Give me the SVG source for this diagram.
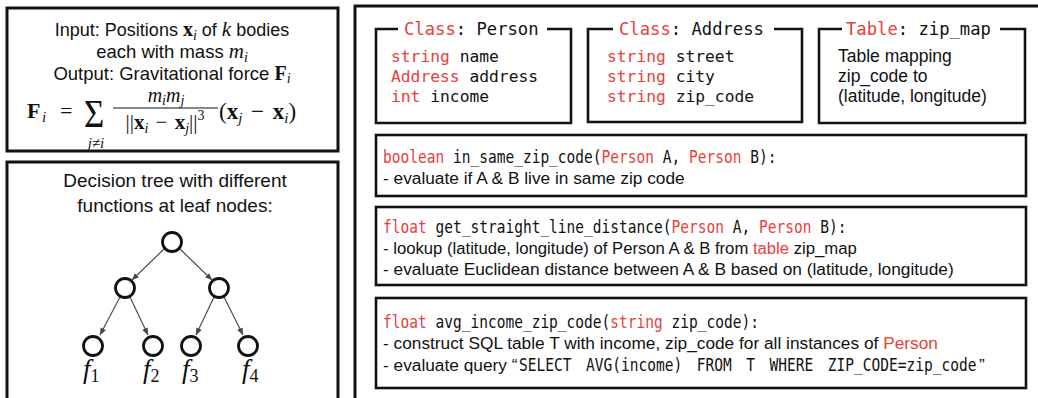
<svg xmlns="http://www.w3.org/2000/svg" width="1038" height="398" viewBox="0 0 1038 398">
<style>
.box{fill:none;stroke:#111;stroke-width:3}
.ibox{fill:none;stroke:#111;stroke-width:2.6}
.mono{font-family:"DejaVu Sans Mono","Liberation Mono",monospace;fill:#111}
.sans{font-family:"Liberation Sans",Arial,sans-serif;fill:#111}
.serif{font-family:"Liberation Serif","Times New Roman",serif;fill:#111}
.red{fill:#e8403a}
.b{font-weight:bold}
.it{font-style:italic}
.node{fill:#fff;stroke:#111;stroke-width:2.8}
.edge{stroke:#444;stroke-width:1.1;fill:none}
</style>
<defs>
<marker id="ah" markerWidth="8" markerHeight="8" refX="7" refY="4" orient="auto" markerUnits="userSpaceOnUse">
<path d="M0,1 L7,4 L0,7 Z" fill="#444"/>
</marker>
</defs>
<rect width="1038" height="398" fill="#fff"/>

<g id="physics">
<rect class="box" x="7" y="8" width="331" height="143"/>
<text class="sans" x="172" y="36" font-size="18" text-anchor="middle">Input: Positions <tspan class="serif b" font-size="20">x</tspan><tspan class="serif it" font-size="14" dy="4">i</tspan><tspan dy="-4"> of </tspan><tspan class="serif it" font-size="21">k</tspan> bodies</text>
<text class="sans" x="172" y="58" font-size="18.5" text-anchor="middle">each with mass <tspan class="serif it" font-size="21">m</tspan><tspan class="serif it" font-size="14" dy="4">i</tspan></text>
<text class="sans" x="172" y="80" font-size="18.5" text-anchor="middle">Output: Gravitational force <tspan class="serif b" font-size="20">F</tspan><tspan class="serif it" font-size="14" dy="3">i</tspan></text>
<text class="serif b" x="27" y="118" font-size="22">F</text>
<text class="serif it" x="42" y="122" font-size="15">i</text>
<text class="serif" x="60" y="118" font-size="22">=</text>
<text class="serif" transform="translate(84,127) scale(0.85,1)" font-size="41">Σ</text>
<text class="serif it" x="96" y="148" font-size="15" text-anchor="middle">j≠i</text>
<text class="serif it" x="166" y="102" font-size="20" text-anchor="middle">m<tspan font-size="14" dy="3">i</tspan><tspan dy="-3">m</tspan><tspan font-size="14" dy="3">j</tspan></text>
<line x1="113" y1="108" x2="218" y2="108" stroke="#111" stroke-width="1.2"/>
<text class="serif" x="165" y="129" font-size="21" text-anchor="middle" word-spacing="2">||<tspan class="b">x</tspan><tspan class="it" font-size="14" dy="4">i</tspan><tspan dy="-4"> − </tspan><tspan class="b">x</tspan><tspan class="it" font-size="14" dy="4">j</tspan><tspan dy="-4">||</tspan><tspan font-size="14" dy="-9">3</tspan></text>
<text class="serif" x="219" y="119" font-size="23" word-spacing="3">(<tspan class="b">x</tspan><tspan class="it" font-size="15" dy="4">j</tspan><tspan dy="-4"> − </tspan><tspan class="b">x</tspan><tspan class="it" font-size="15" dy="4">i</tspan><tspan dy="-4">)</tspan></text>
</g>

<g id="tree-panel">
<rect class="box" x="7" y="162" width="331" height="260"/>
<text class="sans" x="175" y="187" font-size="19" text-anchor="middle">Decision tree with different</text>
<text class="sans" x="175" y="212" font-size="19" text-anchor="middle">functions at leaf nodes:</text>
</g>

<g id="connectors">
<line class="edge" x1="164" y1="249" x2="132" y2="280" marker-end="url(#ah)"/>
<line class="edge" x1="180" y1="249" x2="212" y2="280" marker-end="url(#ah)"/>
<line class="edge" x1="120" y1="297" x2="100" y2="335" marker-end="url(#ah)"/>
<line class="edge" x1="130" y1="297" x2="148" y2="335" marker-end="url(#ah)"/>
<line class="edge" x1="214" y1="297" x2="196" y2="335" marker-end="url(#ah)"/>
<line class="edge" x1="224" y1="297" x2="243" y2="335" marker-end="url(#ah)"/>
</g>

<g id="root"><circle class="node" cx="172" cy="242" r="9.5"/></g>
<g id="mid-left"><circle class="node" cx="125" cy="288" r="9.5"/></g>
<g id="mid-right"><circle class="node" cx="219" cy="288" r="9.5"/></g>
<g id="leaf1"><circle class="node" cx="93" cy="346" r="9.5"/><text class="serif it" x="83" y="378" font-size="27">f<tspan font-style="normal" font-size="18" dy="4">1</tspan></text></g>
<g id="leaf2"><circle class="node" cx="153" cy="346" r="9.5"/><text class="serif it" x="143" y="378" font-size="27">f<tspan font-style="normal" font-size="18" dy="4">2</tspan></text></g>
<g id="leaf3"><circle class="node" cx="191" cy="346" r="9.5"/><text class="serif it" x="182" y="378" font-size="27">f<tspan font-style="normal" font-size="18" dy="4">3</tspan></text></g>
<g id="leaf4"><circle class="node" cx="248" cy="346" r="9.5"/><text class="serif it" x="242" y="378" font-size="27">f<tspan font-style="normal" font-size="18" dy="4">4</tspan></text></g>

<g id="program-panel">
<rect class="box" x="355" y="6" width="700" height="420"/>
</g>

<g id="class-person">
<path class="ibox" d="M398,29 H376 V123 H571 V29 H547"/>
<text class="mono" x="404" y="35" font-size="17.2"><tspan class="red">Class</tspan>: Person</text>
<text class="mono" x="391" y="62" font-size="16.3"><tspan class="red">string</tspan> name</text>
<text class="mono" x="391" y="82" font-size="16.3"><tspan class="red">Address</tspan> address</text>
<text class="mono" x="391" y="102" font-size="16.3"><tspan class="red">int</tspan> income</text>
</g>

<g id="class-address">
<path class="ibox" d="M613,29 H588 V122 H802 V29 H774"/>
<text class="mono" x="619" y="35" font-size="17.2"><tspan class="red">Class</tspan>: Address</text>
<text class="mono" x="607" y="62" font-size="16.3"><tspan class="red">string</tspan> street</text>
<text class="mono" x="607" y="82" font-size="16.3"><tspan class="red">string</tspan> city</text>
<text class="mono" x="607" y="102" font-size="16.3"><tspan class="red">string</tspan> zip_code</text>
</g>

<g id="table-zipmap">
<path class="ibox" d="M842,29 H819 V123 H1025 V29 H1000"/>
<text class="mono" x="846" y="35" font-size="17.2"><tspan class="red">Table</tspan>: zip_map</text>
<text class="sans" x="838" y="62" font-size="17.5">Table mapping</text>
<text class="sans" x="838" y="82" font-size="17.5">zip_code to</text>
<text class="sans" x="838" y="102" font-size="17.5">(latitude, longitude)</text>
</g>

<g id="fn-same-zip">
<rect class="ibox" x="376" y="135" width="650" height="61"/>
<text class="mono" font-size="17.5" transform="translate(383,163) scale(0.83,1)"><tspan class="red">boolean</tspan> in_same_zip_code(<tspan class="red">Person</tspan> A, <tspan class="red">Person</tspan> B):</text>
<text class="sans" x="383" y="184" font-size="17.3">- evaluate if A &amp; B live in same zip code</text>
</g>

<g id="fn-distance">
<rect class="ibox" x="376" y="207" width="650" height="78"/>
<text class="mono" font-size="17.5" transform="translate(383,233) scale(0.83,1)"><tspan class="red">float</tspan> get_straight_line_distance(<tspan class="red">Person</tspan> A, <tspan class="red">Person</tspan> B):</text>
<text class="sans" font-size="17.3" transform="translate(383,254) scale(0.965,1)">- lookup (latitude, longitude) of Person A &amp; B from <tspan class="red">table</tspan> zip_map</text>
<text class="sans" x="383" y="275" font-size="17.3">- evaluate Euclidean distance between A &amp; B based on (latitude, longitude)</text>
</g>

<g id="fn-avg-income">
<rect class="ibox" x="376" y="298" width="650" height="90"/>
<text class="mono" font-size="17.5" transform="translate(383,328) scale(0.83,1)"><tspan class="red">float</tspan> avg_income_zip_code(<tspan class="red">string</tspan> zip_code):</text>
<text class="sans" x="383" y="349" font-size="17.3">- construct SQL table T with income, zip_code for all instances of <tspan class="red">Person</tspan></text>
<text class="sans" x="383" y="371" font-size="17.3">- evaluate query “</text>
<text class="mono" font-size="17.5" word-spacing="7" transform="translate(519,371) scale(0.83,1)">SELECT AVG(income) FROM T WHERE ZIP_CODE=zip_code</text>
<text class="sans" x="979" y="371" font-size="17.3">”</text>
</g>
</svg>
